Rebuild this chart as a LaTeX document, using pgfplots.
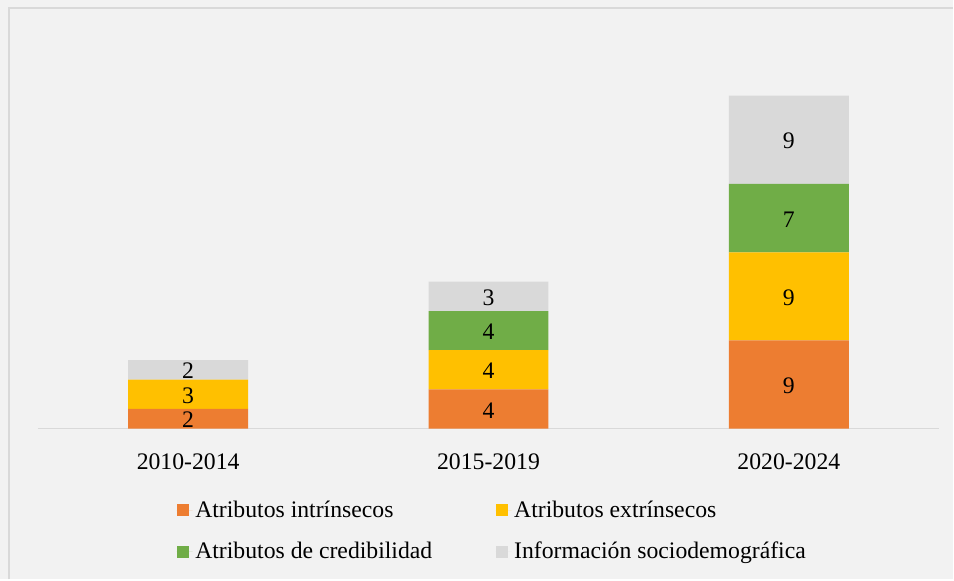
\documentclass[border=0pt]{standalone}
\usepackage{fontspec}
\setmainfont{Liberation Serif}
\usepackage{pgfplots}
\pgfplotsset{compat=1.18}
\definecolor{bgc}{HTML}{F2F2F2}
\definecolor{brd}{HTML}{D9D9D9}
\definecolor{cor}{HTML}{ED7D31}
\definecolor{cye}{HTML}{FFC000}
\definecolor{cgr}{HTML}{70AD47}
\definecolor{cgy}{HTML}{D9D9D9}
\begin{document}
\begin{tikzpicture}[font=\fontsize{17.8}{21}\selectfont]
\fill[bgc] (0pt,0pt) rectangle (715.5pt,-435pt);
\draw[brd,line width=1.5pt] (6.75pt,-435pt) -- (6.75pt,-6pt) -- (715.5pt,-6pt);
\begin{axis}[
  at={(28.5pt,-321.75pt)}, anchor=south west,
  scale only axis, width=676.5pt, height=264.6pt,
  xmin=-0.5, xmax=2.5, ymin=0, ymax=36,
  ybar stacked, bar width=90pt,
  axis y line=none, axis x line*=bottom,
  x axis line style={brd, line width=1pt, -},
  xtick={0,1,2}, xticklabels={2010-2014,2015-2019,2020-2024},
  major tick length=0pt,
  xticklabel style={yshift=-15pt, font=\fontsize{17.8}{21}\selectfont},
  visualization depends on={value \thisrow{v} \as \val},
  nodes near coords={\ifdim\val pt>0pt \val\fi},
  every node near coord/.append style={anchor=center, yshift=-1pt, font=\fontsize{17.8}{21}\selectfont, text=black},
  legend columns=2,
  legend style={at={(0.5045,-0.19)}, anchor=north, draw=none, fill=none,
    font=\fontsize{17.8}{21}\selectfont, row sep=13pt,
    /tikz/every even column/.append style={column sep=45.5pt},
    cells={anchor=west}},
  legend image code/.code={\fill[#1] (0pt,-4.5pt) rectangle (9pt,4.5pt); \path (0pt,0pt) -- (12pt,0pt);},
]
\addplot[fill=cor, draw=none] table[x=x,y=v] {
x v
0 2
1 4
2 9
};
\addlegendentry{Atributos intrínsecos}
\addplot[fill=cye, draw=none] table[x=x,y=v] {
x v
0 3
1 4
2 9
};
\addlegendentry{Atributos extrínsecos}
\addplot[fill=cgr, draw=none] table[x=x,y=v] {
x v
0 0
1 4
2 7
};
\addlegendentry{Atributos de credibilidad}
\addplot[fill=cgy, draw=none] table[x=x,y=v] {
x v
0 2
1 3
2 9
};
\addlegendentry{Información sociodemográfica}
\end{axis}
\end{tikzpicture}
\end{document}
